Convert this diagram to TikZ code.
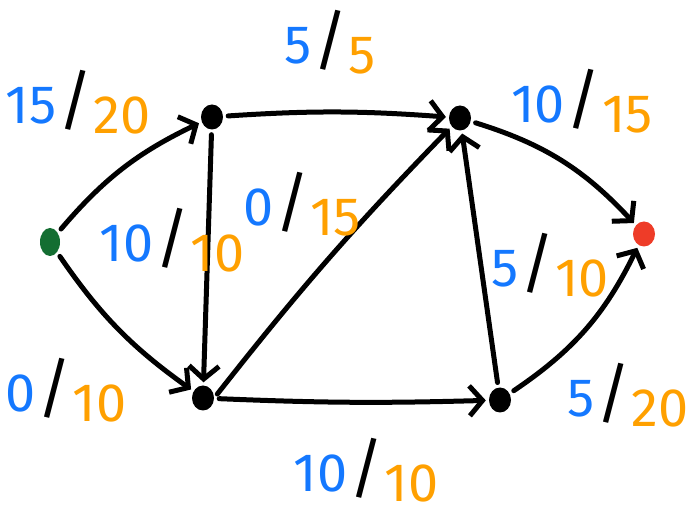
\documentclass[tikz,border=0pt]{standalone}
\usepackage{fontspec}
\setmainfont{Fira Sans}
\usetikzlibrary{arrows.meta,shapes.geometric}
\definecolor{flowblue}{RGB}{20,120,255}
\definecolor{caporange}{RGB}{255,160,0}
\definecolor{srcgreen}{RGB}{20,110,50}
\definecolor{sinkred}{RGB}{238,60,40}
\newcommand{\fl}[2]{\textcolor{flowblue}{#1}\hspace{2pt}\textcolor{black}{\fontsize{66}{66}\selectfont /}\hspace{1pt}\raisebox{-10pt}{\textcolor{caporange}{#2}}}
\begin{document}
\begin{tikzpicture}[x=1pt,y=-1pt,
  vert/.style={ellipse, fill=black, minimum width=22pt, minimum height=25pt, inner sep=0pt},
  edge/.style={line width=5pt, line cap=round, -{Straight Barb[length=13pt,width=30pt,line width=5pt]}},
  lab/.style={font=\fontsize{54}{54}\selectfont, inner sep=0pt}]
\useasboundingbox (0,0) rectangle (691,518);
\node[vert, fill=srcgreen, minimum width=20pt, minimum height=28pt] (s) at (50,242) {};
\node[vert] (a) at (212,117) {};
\node[vert] (b) at (460,118) {};
\node[vert] (c) at (203,398) {};
\node[vert] (d) at (500,400) {};
\node[vert, fill=sinkred] (t) at (644,234) {};
\begin{scope}[shorten >=3pt, shorten <=5pt]
\draw[edge] (s) to[bend left=12] (a);
\draw[edge] (s) to[bend right=10] (c);
\draw[edge] (a) to[bend left=4] (b);
\draw[edge] (a) to (c);
\draw[edge] (c.east) to[bend left=3] (b);
\draw[edge] (c) to[bend right=2] (d);
\draw[edge] (d) to (b);
\draw[edge] (b) to[bend left=15] (t);
\draw[edge] (d) to[bend right=15] (t);
\end{scope}
\node[lab] (l1) at (78,102) {\fl{15}{20}};
\node[lab] (l2) at (330,42) {\fl{5}{5}};
\node[lab] (l3) at (582,101) {\fl{10}{15}};
\node[lab] (l4) at (172,240) {\fl{10}{10}};
\node[lab] (l5) at (302,204) {\fl{0}{15}};
\node[lab] (l6) at (550,265) {\fl{5}{10}};
\node[lab] (l7) at (66,390) {\fl{0}{10}};
\node[lab] (l8) at (366,470) {\fl{10}{10}};
\node[lab] (l9) at (628,395) {\fl{5}{20}};
\end{tikzpicture}
\end{document}
